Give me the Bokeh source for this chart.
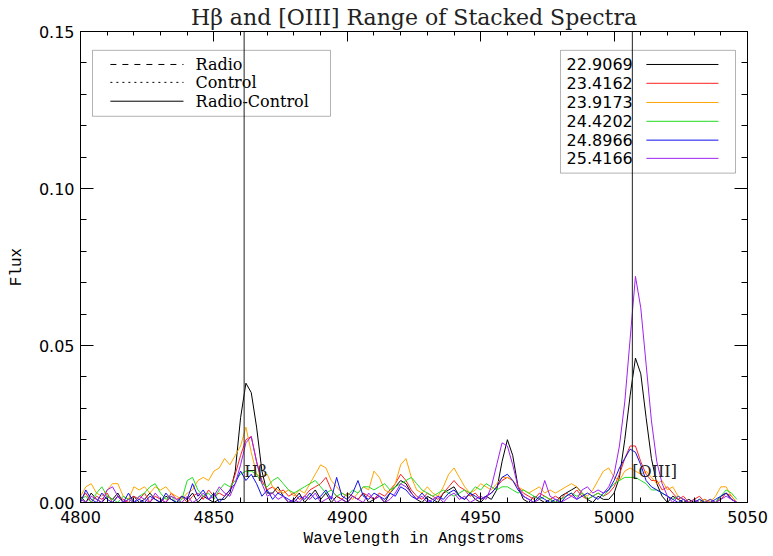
import numpy as np
from bokeh.plotting import figure
from bokeh.models import (BoxAnnotation, Span, LinearAxis, FixedTicker,
                          PrintfTickFormatter, CustomJSTickFormatter, Range1d)
from bokeh.core.properties import value
from bokeh.embed import file_html
from bokeh.resources import INLINE

# ---------------- data (flux in units of 1e-3) ----------------
wavelength = np.arange(4800, 5048, 2)  # 124 points, 2 Angstrom grid

flux_22_9069 = [
    2, 0, 3, 1, 0, 2, 1, 3, 0, 1,
    2, 0, 1, 3, 1, 0, 2, 1, 0, 2,
    1, 3, 0, 2, 1, 0, 1, 1, 3, 10,
    27, 38, 35, 24, 10, 3, 3, 5, 2, 0,
    1, 3, 0, 2, 4, 1, 3, 0, 2, 1,
    0, 2, 1, 3, 0, 1, 2, 0, 3, 5,
    7, 6, 3, 1, 0, 2, 1, 0, 3, 4,
    5, 2, 1, 3, 1, 0, 2, 1, 4, 13,
    20, 15, 5, 1, 0, 2, 1, 0, 1, 0,
    2, 3, 4, 5, 3, 1, 0, 2, 1, 1,
    3, 8, 20, 34, 46, 41, 27, 14, 6, 2,
    0, 2, 1, 0, 1, 0, 0, 1, 0, 0,
    2, 3, 1, 0]

flux_23_4162 = [
    1, 3, 0, 2, 1, 3, 0, 2, 1, 0,
    2, 1, 3, 0, 2, 1, 0, 3, 1, 2,
    0, 2, 3, 1, 4, 2, 3, 2, 4, 9,
    15, 20, 21, 13, 7, 4, 5, 3, 4, 2,
    3, 1, 2, 4, 5, 6, 8, 4, 2, 1,
    3, 2, 1, 3, 2, 1, 3, 2, 4, 6,
    9, 7, 4, 2, 1, 3, 2, 1, 3, 5,
    7, 5, 4, 2, 3, 1, 2, 3, 5, 7,
    8, 7, 5, 3, 2, 1, 3, 2, 1, 2,
    1, 3, 2, 4, 2, 1, 2, 3, 2, 3,
    5, 9, 14, 18, 18, 13, 9, 7, 7, 4,
    5, 3, 1, 2, 0, 1, 2, 0, 1, 0,
    1, 3, 2, 0]

flux_23_9173 = [
    2, 5, 6, 3, 2, 4, 6, 6, 2, 1,
    5, 4, 5, 3, 5, 4, 5, 3, 2, 1,
    3, 4, 7, 8, 7, 10, 11, 14, 12, 15,
    18, 24, 16, 9, 8, 9, 5, 4, 3, 4,
    2, 4, 3, 6, 9, 12, 11, 7, 5, 3,
    2, 1, 3, 5, 4, 10, 8, 4, 3, 6,
    12, 14, 8, 4, 3, 5, 3, 2, 5, 9,
    11, 8, 5, 3, 4, 6, 5, 4, 6, 8,
    8, 7, 5, 4, 3, 4, 5, 3, 4, 3,
    4, 5, 6, 5, 3, 2, 4, 7, 10, 11,
    8, 7, 10, 11, 10, 9, 10, 8, 6, 7,
    4, 5, 2, 1, 0, 1, 0, 1, 0, 2,
    5, 5, 2, 0]

flux_24_4202 = [
    1, 2, 0, 3, 5, 2, 1, 0, 2, 1,
    0, 2, 3, 5, 6, 3, 1, 2, 0, 1,
    7, 8, 4, 2, 3, 1, 4, 6, 5, 7,
    9, 10, 10, 9, 6, 5, 7, 8, 6, 4,
    3, 4, 5, 6, 7, 5, 3, 4, 2, 3,
    2, 4, 3, 5, 5, 4, 5, 6, 4, 5,
    6, 7, 8, 6, 4, 3, 2, 3, 4, 3,
    2, 3, 4, 3, 5, 4, 6, 5, 4, 5,
    5, 4, 3, 4, 3, 2, 1, 2, 1, 0,
    1, 2, 3, 2, 3, 1, 2, 3, 2, 4,
    6, 7, 8, 8, 8, 7, 6, 4, 4, 3,
    2, 1, 2, 1, 0, 0, 1, 0, 1, 0,
    2, 4, 3, 1]

flux_24_8966 = [
    0, 4, 1, 0, 3, 1, 0, 2, 0, 3,
    0, 1, 0, 2, 1, 0, 3, 1, 0, 2,
    1, 6, 2, 4, 1, 3, 0, 2, 4, 6,
    10, 7, 9, 6, 2, 4, 1, 3, 2, 1,
    0, 2, 1, 3, 1, 2, 4, 1, 8, 2,
    1, 3, 7, 2, 1, 3, 2, 1, 3, 2,
    5, 4, 2, 1, 3, 1, 0, 2, 1, 3,
    4, 2, 1, 3, 2, 1, 2, 3, 5, 8,
    9, 7, 4, 2, 1, 0, 2, 1, 0, 1,
    0, 2, 3, 1, 2, 3, 2, 1, 3, 4,
    7, 11, 14, 17, 16, 12, 7, 5, 4, 3,
    2, 1, 0, 1, 0, 0, 1, 0, 0, 1,
    2, 3, 1, 0]

flux_25_4166 = [
    1, 0, 2, 1, 0, 4, 5, 2, 0, 1,
    0, 2, 1, 0, 3, 1, 0, 2, 1, 0,
    2, 0, 1, 3, 1, 2, 5, 3, 2, 6,
    12, 19, 21, 13, 6, 2, 3, 1, 2, 0,
    1, 0, 2, 1, 3, 0, 1, 2, 0, 1,
    0, 2, 1, 0, 3, 1, 2, 0, 1, 3,
    6, 5, 3, 1, 2, 0, 1, 2, 0, 2,
    3, 1, 2, 0, 1, 2, 1, 5, 12, 19,
    18, 12, 5, 2, 1, 0, 1, 7, 2, 1,
    0, 1, 2, 1, 4, 5, 3, 4, 3, 5,
    9, 18, 32, 52, 72, 62, 44, 26, 13, 6,
    2, 0, 2, 1, 0, 1, 0, 0, 1, 0,
    1, 2, 1, 0]

series_labels = ["22.9069", "23.4162", "23.9173", "24.4202", "24.8966", "25.4166"]
series_values = [flux_22_9069, flux_23_4162, flux_23_9173,
                 flux_24_4202, flux_24_8966, flux_25_4166]
series_colors = ["#000000", "#ff2020", "#ffa500", "#22dd22", "#1010ee", "#a020f0"]

line_styles = ["Radio", "Control", "Radio-Control"]
line_dashes = ["dashed", "dotted", "solid"]

x_major = [4800, 4850, 4900, 4950, 5000, 5050]
x_minor = list(range(4800, 5051, 10))
y_major = [0.0, 0.05, 0.10, 0.15]
y_minor = [i / 100 for i in range(0, 16)]

hbeta_wl = 4861.33
oiii_wl = 5006.84

# ---------------- figure ----------------
p = figure(width=773, height=556, output_backend="svg", toolbar_location=None,
           x_range=Range1d(4800, 5050), y_range=Range1d(0, 0.15),
           min_border_left=80, min_border_right=26, min_border_top=30,
           min_border_bottom=54, title="Hβ and [OIII] Range of Stacked Spectra")
p.background_fill_color = "white"
p.border_fill_color = "white"
p.outline_line_color = "black"
p.xgrid.visible = False
p.ygrid.visible = False
p.title.text_font = "DejaVu Serif"
p.title.text_font_size = "22px"
p.title.text_font_style = "normal"
p.title.text_color = "#222222"
p.title.align = "center"
p.title.standoff = 4

xt = FixedTicker(ticks=x_major, minor_ticks=x_minor)
yt = FixedTicker(ticks=y_major, minor_ticks=y_minor)
blank = CustomJSTickFormatter(code="return ''")


def style_axis(ax, major_len, minor_len, labels=True):
    ax.axis_line_color = "black"
    ax.major_tick_line_color = "black"
    ax.minor_tick_line_color = "black"
    ax.major_tick_in = major_len
    ax.major_tick_out = 0
    ax.minor_tick_in = minor_len
    ax.minor_tick_out = 0
    ax.major_label_text_font = "DejaVu Sans"
    ax.major_label_text_font_size = "16px"
    ax.major_label_text_color = "black"
    ax.axis_label_text_font = "Liberation Mono"
    ax.axis_label_text_font_size = "16px"
    ax.axis_label_text_font_style = "normal"
    ax.axis_label_text_color = "black"
    if not labels:
        ax.formatter = blank
        ax.major_label_standoff = 0


xa = p.xaxis[0]
xa.ticker = xt
xa.axis_label = "Wavelength in Angstroms"
style_axis(xa, 10, 5)
xa.major_label_standoff = 8
xa.axis_label_standoff = 4

ya = p.yaxis[0]
ya.ticker = yt
ya.formatter = PrintfTickFormatter(format="%.2f")
ya.axis_label = "Flux"
style_axis(ya, 13, 6)
ya.major_label_standoff = 6
ya.axis_label_standoff = 10

top = LinearAxis(ticker=xt)
style_axis(top, 10, 4, labels=False)
p.add_layout(top, "above")
right = LinearAxis(ticker=yt)
style_axis(right, 13, 6, labels=False)
p.add_layout(right, "right")

# spectra
for vals, col in zip(series_values, series_colors):
    p.line(wavelength, np.array(vals) * 1e-3, line_color=col, line_width=1)

# line markers
for wl in (hbeta_wl, oiii_wl):
    p.add_layout(Span(location=wl, dimension="height", line_color="#222222", line_width=1))
p.text(x=[hbeta_wl, oiii_wl], y=[0.0098, 0.0098], text=["Hβ", "[OIII]"],
       text_font=value("DejaVu Serif"), text_font_size="16px",
       text_baseline="alphabetic", text_align="left", text_color="#222222")

# left legend (line styles)
p.add_layout(BoxAnnotation(left=4804.5, right=4893.7, top=0.1440, bottom=0.1230,
                           fill_alpha=0, line_color="black", line_width=1))
ly = [0.1395, 0.1338, 0.1278]
for yy, dash in zip(ly, line_dashes):
    p.segment(x0=[4811.2], y0=[yy], x1=[4838.6], y1=[yy], line_color="black",
              line_width=1, line_dash=dash)
p.text(x=[4843.1] * 3, y=ly, text=line_styles, text_font=value("DejaVu Serif"),
       text_font_size="16px", text_baseline="middle", text_color="black")

# right legend (magnitude bins)
p.add_layout(BoxAnnotation(left=4979.9, right=5045.5, top=0.1440, bottom=0.1049,
                           fill_alpha=0, line_color="black", line_width=1))
ry = [0.1395, 0.1335, 0.1274, 0.1214, 0.1154, 0.1096]
for yy, col in zip(ry, series_colors):
    p.segment(x0=[5012.1], y0=[yy], x1=[5039.1], y1=[yy], line_color=col, line_width=1)
p.text(x=[4982.2] * 6, y=ry, text=series_labels, text_font=value("DejaVu Sans"),
       text_font_size="16px", text_baseline="middle", text_color="black")

open("out.html", "w").write(file_html(p, INLINE))
